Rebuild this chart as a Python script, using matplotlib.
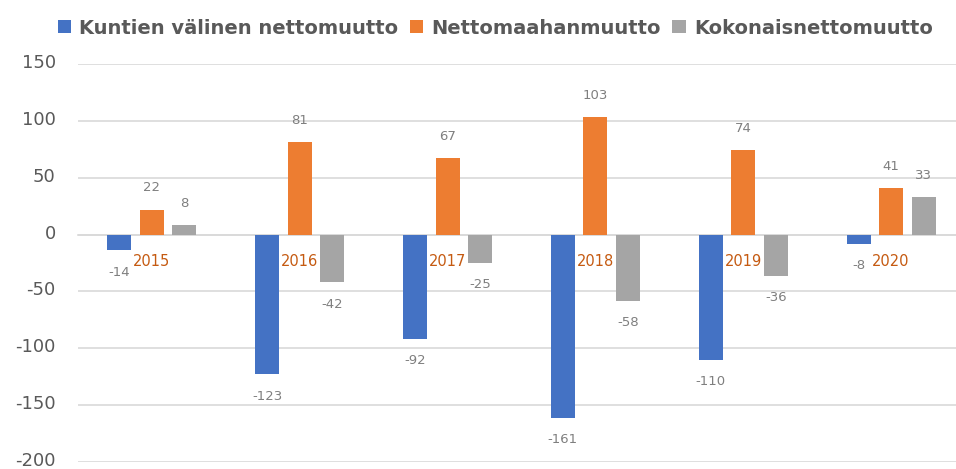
import matplotlib.pyplot as plt
import matplotlib.transforms as mtransforms
import numpy as np

years = ['2015', '2016', '2017', '2018', '2019', '2020']
kuntien = [-14, -123, -92, -161, -110, -8]
maahan = [22, 81, 67, 103, 74, 41]
kokonais = [8, -42, -25, -58, -36, 33]

series_names = ['Kuntien välinen nettomuutto', 'Nettomaahanmuutto', 'Kokonaisnettomuutto']
colors = ['#4472C4', '#ED7D31', '#A5A5A5']

plt.rcParams['font.family'] = ['DejaVu Sans']
plt.rcParams['axes.unicode_minus'] = False

fig = plt.figure(figsize=(9.56, 4.69), dpi=100)
ax = fig.add_axes([78/956, 7/469, 887/956, 398/469])

x = np.arange(len(years))
w = 0.163
step = 0.22
for i, (vals, name, c) in enumerate(zip([kuntien, maahan, kokonais], series_names, colors)):
    bars = ax.bar(x + (i - 1) * step, vals, width=w, color=c, label=name, zorder=3)
    ax.bar_label(bars, padding=11, fontsize=9.5, color='#7F7F7F')

ax.set_xlim(-0.5, 5.5)
ax.set_ylim(-200, 150)
ax.set_yticks(range(-200, 151, 50))
ax.yaxis.grid(True, color='#D9D9D9', lw=1.2, zorder=0)
ax.set_axisbelow(True)

for s in ['top', 'right', 'left']:
    ax.spines[s].set_visible(False)
ax.spines['bottom'].set_position(('data', 0))
ax.spines['bottom'].set_color('#D9D9D9')
ax.spines['bottom'].set_linewidth(1.2)

ax.set_xticks(x)
ax.set_xticklabels(years, color='#C55A11', fontsize=10.5)
ax.tick_params(axis='x', length=0, pad=14)
ax.tick_params(axis='y', length=0, pad=16, labelsize=13, labelcolor='#595959')
# nudge y labels up a little so -200 stays inside the figure
up = mtransforms.ScaledTranslation(0, 3/100, fig.dpi_scale_trans)
for lbl in ax.get_yticklabels():
    lbl.set_transform(lbl.get_transform() + up)

fig.legend(loc='center', bbox_to_anchor=(0.518, 1 - 28/469), ncol=3, frameon=False,
           prop={'size': 14, 'weight': 'bold'}, labelcolor='#595959',
           handlelength=0.7, handleheight=0.7, handletextpad=0.4, columnspacing=0.6)

fig.savefig('out.png', dpi=100)
